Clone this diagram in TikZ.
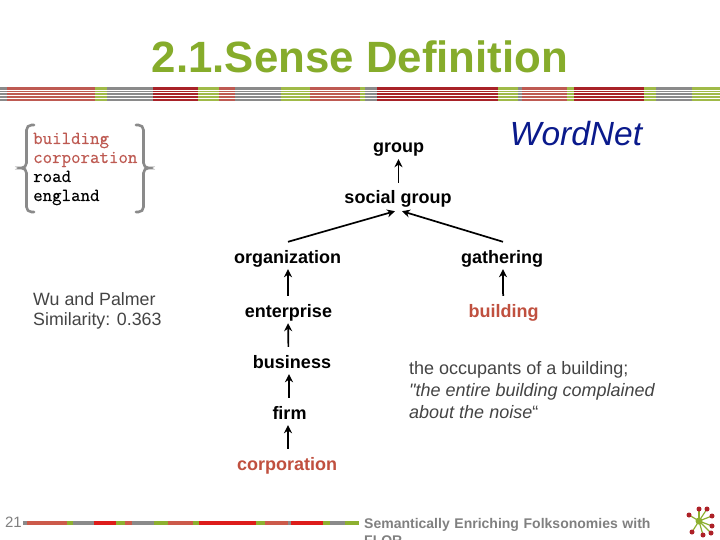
\documentclass[tikz,border=0pt]{standalone}
\usepackage{fontspec}
\setmainfont{Liberation Sans}
\setmonofont[FakeBold=0.4]{Latin Modern Mono}
\newfontfamily\rawsans{Liberation Sans}
\definecolor{tgreen}{HTML}{86AC2B}
\definecolor{bgrey}{HTML}{8A8A8A}
\definecolor{bsalmon}{HTML}{BE5A52}
\definecolor{bred}{HTML}{A82228}
\definecolor{bgreen}{HTML}{A0BA48}
\definecolor{fred}{HTML}{DD1C1A}
\definecolor{fsalmon}{HTML}{CC5A4A}
\definecolor{fgreen}{HTML}{8DB030}
\definecolor{lred}{HTML}{C0503F}
\definecolor{wnblue}{HTML}{0A1A8C}
\definecolor{dtext}{HTML}{444444}
\definecolor{ftext}{HTML}{808080}
\usetikzlibrary{arrows.meta}
\tikzset{
  lab/.style={font=\fontsize{18}{20}\selectfont\bfseries, inner sep=0pt, text height=14pt, text depth=3pt, anchor=center},
  arr/.style={draw=black, line width=1.7pt, -{Stealth[length=8pt,width=8pt]}},
  brace/.style={draw=bgrey, line width=2.6pt, line cap=round, rounded corners=5pt},
  plain/.style={inner sep=0pt, align=left},
  dot/.style={circle, fill=bred!90!fred, draw=none, minimum size=5pt, inner sep=0pt},
  mono/.style={plain, anchor=base west, font=\fontsize{18.4}{19}\ttfamily},
}
\begin{document}
\begin{tikzpicture}[x=1pt,y=-1pt]
\useasboundingbox (0,0) rectangle (720,540);
\clip (0,0) rectangle (720,540);
\fill[white] (0,0) rectangle (720,540);
% title
\node[plain, text=tgreen, font=\fontsize{43.8}{48}\selectfont\bfseries] (title) at (360,57) {2.1.Sense Definition};
% header bar
\foreach \a/\b/\c in {0/7/bgrey,7/95/bsalmon,95/107/bgreen,107/153/bgrey,153/198/bred,198/219/bgreen,219/235/bsalmon,235/281/bgrey,281/310/bgreen,310/360/bsalmon,360/365/bgreen,365/377/bgrey,377/498/bred,498/518/bgreen,518/522/bgrey,522/567/bsalmon,567/574/bgreen,574/644/bred,644/656/bgreen,656/692/bgrey,692/720/bgreen}
  {\fill[\c] (\a,87) rectangle (\b,101);}
\foreach \y in {89.6,92.5,95.4,98.3} {\fill[white] (0,\y) rectangle (720,\y+0.75);}
% footer bar
\foreach \a/\b/\c in {23/27/bgrey,27/67/fsalmon,67/73/fgreen,73/94/bgrey,94/116/fred,116/125/fgreen,125/132/fsalmon,132/154/bgrey,154/168/fgreen,168/193/fsalmon,193/199/fgreen,199/256/fred,256/265/fgreen,265/288/fsalmon,288/291/bgrey,291/323/fred,323/330/fgreen,330/345/bgrey,345/359/fgreen}
  {\fill[\c] (\a,521) rectangle (\b,525);}
\node[plain, text=ftext, font=\fontsize{15}{18}\selectfont] (pageno) at (13.5,522) {21};
\node[plain, anchor=base west, text=ftext, font=\fontsize{14}{17}\selectfont\bfseries, text width=300pt] (foot) at (364,528) {Semantically Enriching Folksonomies with\\FLOR};
% braces
\draw[brace] (34,125) -- (26.5,125) -- (26.5,168) -- (18.5,168) -- (26.5,168) -- (26.5,212) -- (34,212);
\draw[brace] (136,125) -- (143.5,125) -- (143.5,168) -- (151.5,168) -- (143.5,168) -- (143.5,212) -- (136,212);
% word list
\node[mono, text=bsalmon] (w1) at (33,144) {building};
\node[mono, text=bsalmon] (w2) at (33,163) {corporation};
\node[mono, text=black] (w3) at (33,182) {road};
\node[mono, text=black] (w4) at (33,201) {england};
% wordnet
\node[plain, text=wnblue, font=\fontsize{33.5}{36}\selectfont\itshape] (wn) at (576,134) {WordNet};
% similarity
\node[plain, anchor=north west, text=dtext, font=\fontsize{17.8}{20.5}\selectfont] (sim) at (33,292) {Wu and Palmer\\Similarity: 0.363};
% hierarchy
\node[lab] (group) at (398.5,147.5) {group};
\node[lab] (social) at (398,198.5) {social group};
\node[lab] (org) at (287.5,257.5) {organization};
\node[lab] (gath) at (502,257.5) {gathering};
\node[lab] (ent) at (288.5,311.5) {enterprise};
\node[lab, text=lred] (bldg) at (503.5,311.5) {building};
\node[lab] (bus) at (292,362.5) {business};
\node[lab] (firm) at (289.5,413.5) {firm};
\node[lab, text=lred] (corp) at (287,464.5) {corporation};
% definition
\node[plain, anchor=north west, text=dtext, font=\fontsize{18}{22}\rawsans] (def) at (409,361) {the occupants of a building;\\\textit{"the entire building complained}\\\textit{about the noise}“};
% arrows
\draw[arr, shorten <=7pt, shorten >=3pt] ([xshift=.5pt]social.north) -- (group.south);
\draw[arr] ([xshift=.5pt,yshift=7pt]org.north) -- ([xshift=-3pt,yshift=-4pt]social.south);
\draw[arr] ([xshift=1pt,yshift=7pt]gath.north) -- ([xshift=4pt,yshift=-4pt]social.south);
\draw[arr, shorten <=7pt, shorten >=3pt] ([xshift=-.5pt]ent.north) -- ([xshift=.5pt]org.south);
\draw[arr, line join=round, shorten <=7pt, shorten >=3pt] ([xshift=.5pt]bldg.north) -- ++(-1,-10) -- ([xshift=1pt]gath.south);
\draw[arr, shorten <=7pt, shorten >=3pt] ([xshift=-3.5pt]bus.north) -- ([xshift=-.5pt]ent.south);
\draw[arr, shorten <=7pt, shorten >=3pt] ([xshift=-.5pt]firm.north) -- ([xshift=-3pt]bus.south);
\draw[arr, shorten <=7pt, shorten >=3pt] ([xshift=1pt]corp.north) -- ([xshift=-1.5pt]firm.south);
% logo
\coordinate (hub) at (699,521);
\foreach \n/\p in {a/{(689,515)},b/{(699,509)},c/{(707,509)},d/{(712,516)},e/{(712,526)},f/{(711,533)},g/{(703,535)},h/{(692,532)}}{
  \draw[fgreen, line width=1.2pt] (hub) -- \p;
  \node[dot] (\n) at \p {};
}
\fill[fgreen] (hub) circle (3.5pt);
\end{tikzpicture}
\end{document}
